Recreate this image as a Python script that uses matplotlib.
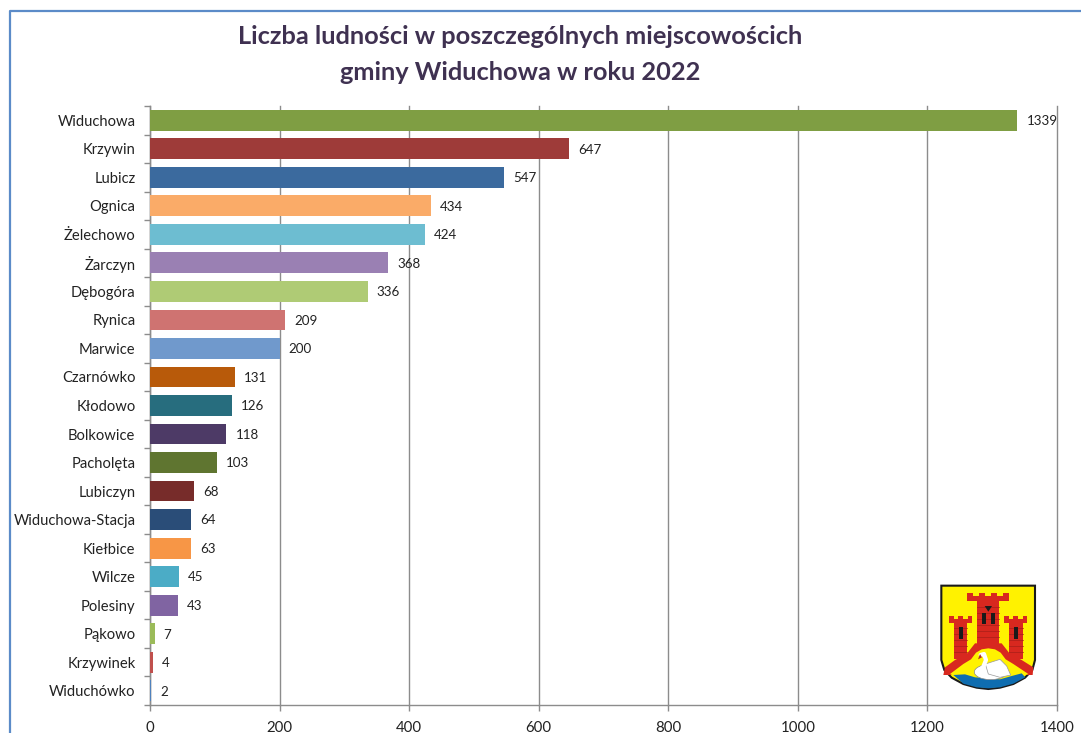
import matplotlib
matplotlib.use('Agg')
import matplotlib.pyplot as plt
from matplotlib.lines import Line2D
from matplotlib.patches import Polygon, Rectangle, Ellipse

plt.rcParams['font.family'] = ['Lato', 'DejaVu Sans']

#データ
places = ['Widuchowa', 'Krzywin', 'Lubicz', 'Ognica', 'Żelechowo', 'Żarczyn', 'Dębogóra',
          'Rynica', 'Marwice', 'Czarnówko', 'Kłodowo', 'Bolkowice', 'Pacholęta', 'Lubiczyn',
          'Widuchowa-Stacja', 'Kiełbice', 'Wilcze', 'Polesiny', 'Pąkowo', 'Krzywinek', 'Widuchówko']
people = [1339, 647, 547, 434, 424, 368, 336, 209, 200, 131, 126, 118, 103, 68, 64, 63, 45, 43, 7, 4, 2]
colors = ['#7F9E43', '#9E3B39', '#3B6A9E', '#FAAB68', '#6DBDD1', '#9A80B3', '#AFCB75',
          '#CF7371', '#7099CC', '#B85A0A', '#276D7E', '#4D3A66', '#5F7530', '#772C2A',
          '#2A4D78', '#F79646', '#4BACC6', '#8064A2', '#9BBB59', '#C0504D', '#4F81BD']
x_ticks = [0, 200, 400, 600, 800, 1000, 1200, 1400]

W, H = 1081, 733
GRID = '#8C8C8C'
TEXT = '#222222'

fig = plt.figure(figsize=(W / 100, H / 100), dpi=100, facecolor='white')

#枠線（上と左だけ見えている）
fig.add_artist(Line2D([9.5 / W, 9.5 / W, 1], [0, 1 - 11 / H, 1 - 11 / H], transform=fig.transFigure,
                      color='#5B8BC8', linewidth=1.6))

#グラフ領域
x0, x1, y_top, y_bot = 150, 1057, 106, 705
ax = fig.add_axes([x0 / W, 1 - y_bot / H, (x1 - x0) / W, (y_bot - y_top) / H])
pos = list(range(len(places)))
ax.barh(pos, people, height=0.73, color=colors, zorder=3)
ax.set_xlim(0, 1400)
ax.set_ylim(len(places) - 0.5, -0.5)
ax.set_xticks(x_ticks)
ax.set_yticks(pos, places)
ax.set_yticks([p - 0.5 for p in pos] + [len(places) - 0.5], minor=True)
ax.grid(axis='x', color=GRID, linewidth=1, zorder=0, clip_on=False)
ax.set_axisbelow(True)
for side in ['top', 'right']:
    ax.spines[side].set_visible(False)
for side in ['left', 'bottom']:
    ax.spines[side].set_color(GRID)
    ax.spines[side].set_linewidth(1)
ax.tick_params(axis='y', which='major', length=0, pad=10.5, labelsize=10.6, labelcolor=TEXT)
ax.tick_params(axis='y', which='minor', length=4.5, color=GRID, width=1)
ax.tick_params(axis='x', length=4.5, color=GRID, width=1, pad=7, labelsize=10.8, labelcolor=TEXT)

#値ラベル
for p, v in zip(pos, people):
    ax.text(v + 14, p + 0.03, str(v), va='center', ha='left', fontsize=9.6, color=TEXT,
            clip_on=False, zorder=4)

#タイトル
for line, y in [('Liczba ludności w poszczególnych miejscowościch', 37),
                ('gminy Widuchowa w roku 2022', 72)]:
    fig.text(520 / W, 1 - y / H, line, ha='center', va='center', fontsize=18.3,
             fontweight='bold', color='#3F3151')

#紋章（座標は拡大画像の値）
crest = fig.add_axes([900 / W, 1 - 733 / H, 181 / W, 173 / H], zorder=5)
crest.set_xlim(0, 543)
crest.set_ylim(519, 0)
crest.axis('off')
shield = [(124, 77), (405, 77), (405, 300), (397, 330), (375, 353), (340, 372), (300, 383), (265, 387),
          (230, 383), (190, 372), (155, 353), (133, 330), (124, 300)]
crest.add_patch(Polygon(shield, closed=True, facecolor='#FFF200', edgecolor='#1A1A1A', linewidth=1.5, zorder=1))
RED = '#D8281F'
DARK = '#A81E18'
#塔
for tx, tw, ty, th in [(232, 66, 122, 130), (162, 40, 188, 110), (327, 41, 188, 110)]:
    crest.add_patch(Rectangle((tx, ty), tw, th, facecolor=RED, edgecolor='none', zorder=2))
#胸壁
for cx, cy, cw, ch, mw, step, n in [(200, 108, 128, 14, 20, 36, 4),
                                    (147, 178, 70, 10, 14, 28, 3),
                                    (312, 178, 70, 10, 14, 28, 3)]:
    crest.add_patch(Rectangle((cx, cy), cw, ch, facecolor=RED, edgecolor='none', zorder=2))
    for i in range(n):
        crest.add_patch(Rectangle((cx + i * step, cy - 10), mw, 11, facecolor=RED, edgecolor='none', zorder=2))
#アーチ
crest.add_patch(Polygon([(135, 322), (165, 300), (200, 282), (225, 250), (305, 250), (330, 282),
                         (365, 300), (400, 322), (398, 345), (130, 345)],
                        closed=True, facecolor=RED, edgecolor='none', zorder=2))
#煉瓦の目地
for by in [140, 158, 176, 194, 212, 230]:
    crest.plot([232, 298], [by, by], color=DARK, linewidth=0.5, zorder=3)
for by in [205, 223, 241, 259, 277]:
    crest.plot([162, 202], [by, by], color=DARK, linewidth=0.5, zorder=3)
    crest.plot([327, 368], [by, by], color=DARK, linewidth=0.5, zorder=3)
#アーチの内側
crest.add_patch(Polygon([(150, 342), (190, 312), (213, 298), (228, 278), (245, 268), (265, 265),
                         (285, 268), (302, 278), (317, 298), (340, 312), (385, 342), (360, 352),
                         (170, 352)],
                        closed=True, facecolor='#FFF200', edgecolor='none', zorder=3))
#水面
crest.add_patch(Polygon([(160, 345), (195, 343), (225, 352), (300, 358), (335, 348), (365, 340), (376, 352),
                         (340, 371), (300, 382), (265, 385), (230, 382), (190, 371)],
                        closed=True, facecolor='#0F6DB0', edgecolor='none', zorder=4))
#窓
for wx, wy, ww, wh in [(246, 158, 12, 34), (272, 158, 12, 34), (177, 202, 12, 34), (341, 202, 12, 34)]:
    crest.add_patch(Rectangle((wx, wy), ww, wh, facecolor='#1A1A1A', edgecolor='none', zorder=4))
crest.add_patch(Polygon([(254, 138), (276, 138), (265, 155)], closed=True, facecolor='#1A1A1A',
                        edgecolor='none', zorder=4))
#白鳥
crest.add_patch(Ellipse((272, 336), 98, 46, facecolor='white', edgecolor='#888888', linewidth=0.5, zorder=5))
crest.add_patch(Polygon([(256, 312), (300, 298), (320, 318), (332, 345), (300, 352), (265, 342)],
                        closed=True, facecolor='white', edgecolor='#999999', linewidth=0.5, zorder=5))
crest.plot([242, 252, 258, 250, 232], [285, 282, 300, 320, 338], color='white', linewidth=3,
           solid_capstyle='round', zorder=6)
crest.add_patch(Polygon([(240, 282), (234, 298), (246, 292)], closed=True, facecolor='#B03020',
                        edgecolor='none', zorder=7))

fig.savefig('out.png', dpi=100)
